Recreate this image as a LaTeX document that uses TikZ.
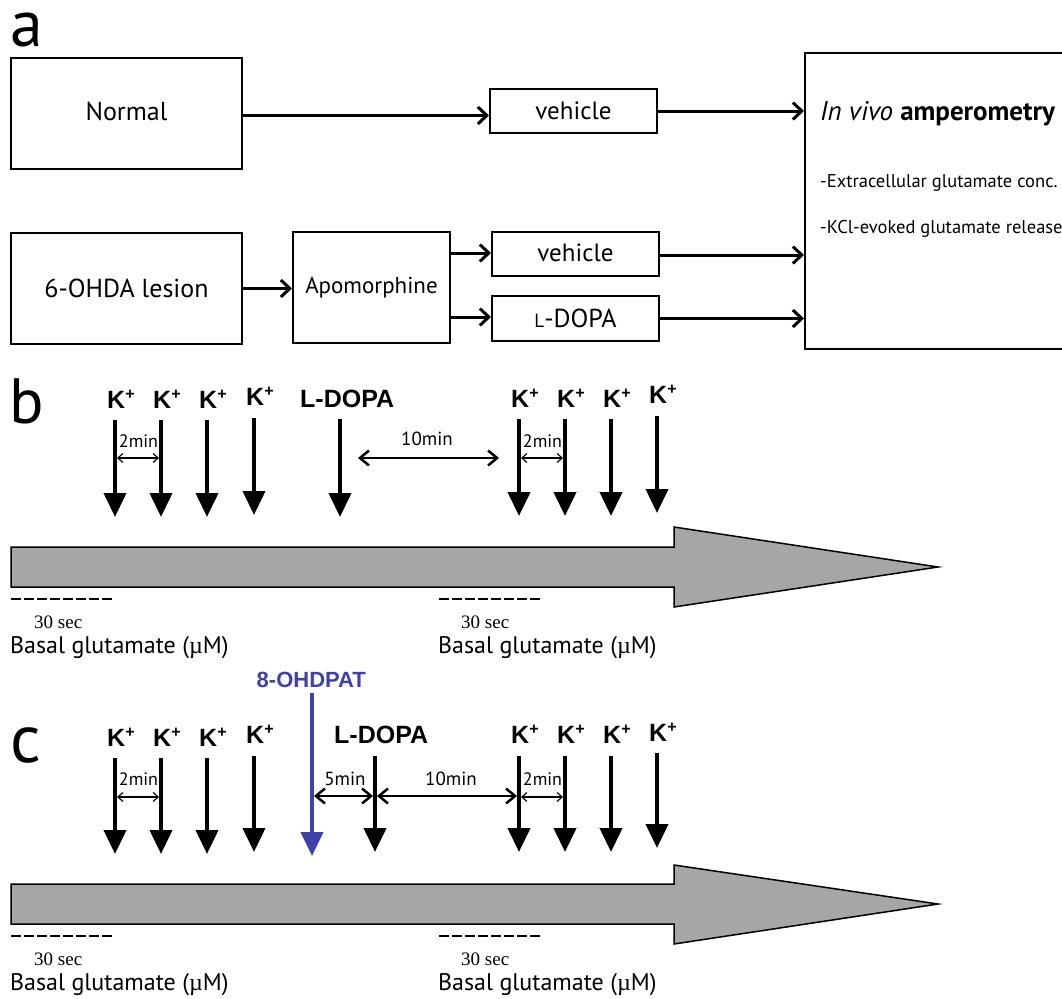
\documentclass[tikz,border=0pt]{standalone}
\usepackage{fontspec}
\setmainfont{PT Sans}
\newfontfamily\arialf{Liberation Sans}
\newfontfamily\timesf{Liberation Serif}
\usetikzlibrary{arrows.meta}
\definecolor{bargray}{RGB}{166,166,166}
\definecolor{dpblue}{RGB}{64,64,170}
\newcommand\kplus{\raisebox{8.5pt}{\fontsize{16}{16}\selectfont +}}
\tikzset{
  box/.style={draw, line width=2pt, inner sep=0pt, font=\fontsize{26}{30}\selectfont},
  flow/.style={line width=3pt, -{Straight Barb[length=9pt,width=17pt]}},
  drop/.style={line width=4pt, -{Triangle[length=24pt,width=22pt]}},
  klab/.style={inner sep=0pt, font=\arialf\bfseries\fontsize{25}{25}\selectfont},
  blab/.style={inner sep=0pt, font=\arialf\bfseries\fontsize{25}{25}\selectfont},
  thinint/.style={line width=1.2pt, {Straight Barb[length=5pt,width=9pt]}-{Straight Barb[length=5pt,width=9pt]}},
  thickint/.style={line width=2.5pt, {Straight Barb[length=9pt,width=15pt]}-{Straight Barb[length=9pt,width=15pt]}},
  tlab/.style={inner sep=0pt, anchor=base, font=\fontsize{18}{18}\selectfont},
  seclab/.style={inner sep=0pt, anchor=base west, font=\timesf\fontsize{19}{19}\selectfont},
  basal/.style={inner sep=0pt, anchor=base west, font=\fontsize{24}{24}\selectfont},
  dash30/.style={line width=2pt, dash pattern=on 10pt off 3pt},
  timebar/.style={fill=bargray, draw=black, line width=1.5pt, line join=miter},
  panel/.style={inner sep=0pt, anchor=base west, font=\fontsize{66}{66}\selectfont},
}
\newcommand\kpulse[5]{%
  \node[klab, anchor=base west] (#1l) at ({#2-8},#3) {K\kplus};
  \coordinate (#1t) at (#2,#4);
  \coordinate (#1b) at (#2,#5);
  \draw[drop] (#1t) -- (#1b);}
\begin{document}
\begin{tikzpicture}[x=1pt,y=-1pt]
\useasboundingbox (0,0) rectangle (1062,998);
\fill[white] (0,0) rectangle (1062,998);

% ---------------- panel a ----------------
\node[panel] (la) at (10,47) {a};
\node[box, minimum width=231pt, minimum height=111pt] (normal) at (126.5,113.5) {\raisebox{4pt}{Normal}};
\node[box, minimum width=231pt, minimum height=111pt] (lesion) at (126.5,288.5) {6-OHDA lesion};
\node[box, minimum width=157pt, minimum height=111pt, font=\fontsize{23}{26}\selectfont] (apo) at (371.5,287.5) {\raisebox{2pt}{Apomorphine}};
\node[box, minimum width=167pt, minimum height=44pt, font=\fontsize{25}{28}\selectfont] (veha) at (573.5,111) {vehicle};
\node[box, minimum width=167pt, minimum height=44pt, font=\fontsize{25}{28}\selectfont] (vehb) at (575.5,254) {\raisebox{2pt}{vehicle}};
\node[box, minimum width=167pt, minimum height=45pt] (ldbox) at (575.5,318.5) {{\fontsize{19}{19}\selectfont L}-DOPA};
\node[draw, line width=2pt, minimum width=272pt, minimum height=296pt, inner sep=0pt] (amp) at (941,201) {};
\node[inner sep=0pt, anchor=base west, font=\fontsize{27}{27}\selectfont] (amptitle) at (820,120) {\textit{In vivo} \textbf{amperometry}};
\node[inner sep=0pt, anchor=base west, font=\fontsize{18.5}{18.5}\selectfont] (ampone) at (820,187) {-Extracellular glutamate conc.};
\node[inner sep=0pt, anchor=base west, font=\fontsize{18.5}{18.5}\selectfont] (amptwo) at (820,233) {-KCl-evoked glutamate release};

\draw[flow] ([yshift=-2pt]normal.east) -- ([yshift=-2pt]normal.east -| veha.west);
\draw[flow] (veha.east) -- (veha.east -| amp.west);
\draw[flow] (lesion.east) -- (lesion.east -| apo.west);
\draw[flow] ([yshift=1pt]apo.east |- vehb.west) -- ([yshift=1pt]vehb.west);
\draw[flow] ([yshift=1.5pt]apo.east |- ldbox.west) -- ([yshift=1.5pt]ldbox.west);
\draw[flow] ([yshift=-1pt]vehb.east) -- ([yshift=-1pt]vehb.east -| amp.west);
\draw[flow] (ldbox.east) -- (ldbox.east -| amp.west);

% ---------------- panel b ----------------
\node[panel, font=\fontsize{64}{64}\selectfont] (lb) at (9,423) {b};
\kpulse{bka}{115}{408}{420}{517}
\kpulse{bkb}{161}{408}{420}{517}
\kpulse{bkc}{207}{408}{420}{517}
\kpulse{bkd}{254}{405}{418}{515}
\node[blab, anchor=base west] (bld) at (300,407) {L-DOPA};
\coordinate (bldt) at (340,419);
\coordinate (bldb) at (340,517);
\draw[drop] (bldt) -- (bldb);
\kpulse{bke}{519}{407}{419}{516}
\kpulse{bkf}{565}{407}{419}{516}
\kpulse{bkg}{611}{407}{419}{516}
\kpulse{bkh}{657}{403}{416}{513}

\coordinate (bia) at (117,458); \coordinate (bib) at (159,458);
\draw[thinint] (bia) -- (bib);
\node[tlab] (bit) at (138.5,447) {2min};
\coordinate (bja) at (358,458); \coordinate (bjb) at (499,458);
\draw[thickint] (bja) -- (bjb);
\node[tlab, font=\fontsize{19}{19}\selectfont] (bjt) at (427,445) {10min};
\coordinate (bka) at (521,458); \coordinate (bkb) at (563,458);
\draw[thinint] (bka) -- (bkb);
\node[tlab] (bkt) at (542.5,447) {2min};

\draw[timebar] (11,547) -- (674,547) -- (674,527) -- (938,567) -- (674,607) -- (674,587) -- (11,587) -- cycle;
\draw[dash30] (11,599) -- (112,599);
\draw[dash30] (439,599) -- (540,599);
\node[seclab] (bsa) at (34,628) {30 sec};
\node[seclab] (bsb) at (461,628) {30 sec};
\node[basal] (bga) at (10,653) {Basal glutamate ({\timesf µ}M)};
\node[basal] (bgb) at (438,653) {Basal glutamate ({\timesf µ}M)};

% ---------------- panel c ----------------
\node[panel, font=\fontsize{68}{68}\selectfont] (lc) at (10,762) {c};
\node[inner sep=0pt, anchor=base west, text=dpblue, font=\arialf\bfseries\fontsize{22}{22}\selectfont] (dpat) at (256.5,687) {8-OHDPAT};
\coordinate (dpt) at (312,693);
\coordinate (dpb) at (312,856);
\draw[drop, draw=dpblue, fill=dpblue] (dpt) -- (dpb);
\kpulse{cka}{115}{746}{758}{854}
\kpulse{ckb}{161}{746}{758}{854}
\kpulse{ckc}{207}{746}{758}{854}
\kpulse{ckd}{254}{743}{756}{852}
\node[blab, anchor=base west] (cld) at (334,743) {L-DOPA};
\coordinate (cldt) at (375,756);
\coordinate (cldb) at (375,852);
\draw[drop] (cldt) -- (cldb);
\kpulse{cke}{519}{743}{756}{852}
\kpulse{ckf}{565}{743}{756}{852}
\kpulse{ckg}{611}{743}{756}{852}
\kpulse{ckh}{657}{741}{753}{848}

\coordinate (cia) at (117,797); \coordinate (cib) at (159,797);
\draw[thinint] (cia) -- (cib);
\node[tlab] (cit) at (138.5,785) {2min};
\coordinate (cfa) at (314,796); \coordinate (cfb) at (373,796);
\draw[thickint] (cfa) -- (cfb);
\node[tlab, font=\fontsize{19}{19}\selectfont] (cft) at (345,785) {5min};
\coordinate (cja) at (377,796); \coordinate (cjb) at (517,796);
\draw[thickint] (cja) -- (cjb);
\node[tlab, font=\fontsize{19}{19}\selectfont] (cjt) at (451,785) {10min};
\coordinate (cka) at (521,797); \coordinate (ckb) at (563,797);
\draw[thinint] (cka) -- (ckb);
\node[tlab] (ckt) at (542.5,785) {2min};

\draw[timebar] (11,884) -- (674,884) -- (674,865) -- (938,904) -- (674,944) -- (674,924) -- (11,924) -- cycle;
\draw[dash30] (11,936) -- (112,936);
\draw[dash30] (439,936) -- (540,936);
\node[seclab] (csa) at (34,965) {30 sec};
\node[seclab] (csb) at (461,965) {30 sec};
\node[basal] (cga) at (10,990) {Basal glutamate ({\timesf µ}M)};
\node[basal] (cgb) at (438,990) {Basal glutamate ({\timesf µ}M)};
\end{tikzpicture}
\end{document}
